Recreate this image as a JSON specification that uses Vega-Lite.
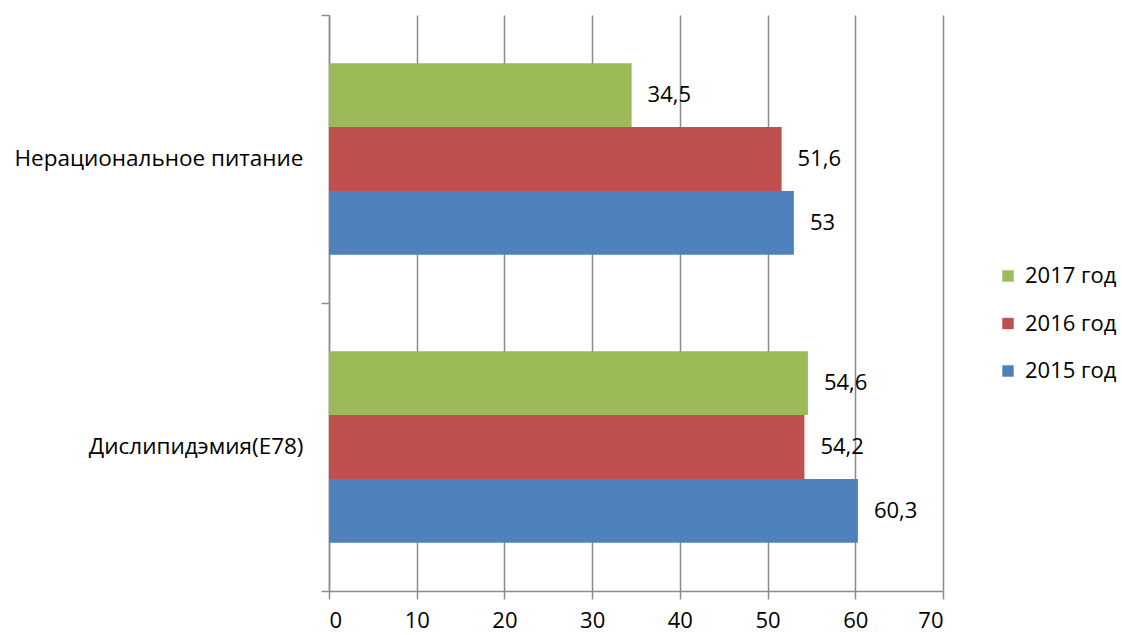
{
  "$schema": "https://vega.github.io/schema/vega-lite/v6.json",
  "width": 614,
  "height": 576,
  "autosize": {"type": "none"},
  "padding": {"left": 329, "top": 15, "right": 179, "bottom": 44},
  "background": "white",
  "config": {
    "view": {"stroke": null},
    "font": "Open Sans",
    "locale": {"number": {"decimal": ",", "thousands": " ", "grouping": [3], "currency": ["", " ₽"]}}
  },
  "data": {
    "values": [
      {"category": "Нерациональное питание", "year": "2017 год", "value": 34.5},
      {"category": "Нерациональное питание", "year": "2016 год", "value": 51.6},
      {"category": "Нерациональное питание", "year": "2015 год", "value": 53},
      {"category": "Дислипидэмия(E78)", "year": "2017 год", "value": 54.6},
      {"category": "Дислипидэмия(E78)", "year": "2016 год", "value": 54.2},
      {"category": "Дислипидэмия(E78)", "year": "2015 год", "value": 60.3}
    ]
  },
  "encoding": {
    "y": {
      "field": "category",
      "type": "nominal",
      "sort": ["Нерациональное питание", "Дислипидэмия(E78)"],
      "scale": {"paddingInner": 0, "paddingOuter": 0},
      "axis": {
        "title": null,
        "bandPosition": 1,
        "tickExtra": true,
        "tickSize": 8,
        "tickColor": "#8c8c8c",
        "tickWidth": 1.5,
        "domainColor": "#8c8c8c",
        "domainWidth": 1.5,
        "labelFontSize": 22.5,
        "labelColor": "#000000",
        "labelPadding": 18,
        "labelLimit": 400,
        "grid": false
      }
    },
    "yOffset": {
      "field": "year",
      "type": "nominal",
      "sort": ["2017 год", "2016 год", "2015 год"],
      "scale": {"paddingInner": 0, "paddingOuter": 0.757}
    },
    "x": {
      "field": "value",
      "type": "quantitative",
      "scale": {"domain": [0, 70], "nice": false},
      "axis": {
        "title": null,
        "values": [0, 10, 20, 30, 40, 50, 60, 70],
        "grid": true,
        "gridColor": "#8c8c8c",
        "gridWidth": 1.5,
        "tickSize": 8,
        "tickColor": "#8c8c8c",
        "tickWidth": 1.5,
        "domainColor": "#8c8c8c",
        "domainWidth": 1.5,
        "labelFontSize": 22,
        "labelColor": "#000000",
        "labelPadding": 11
      }
    }
  },
  "layer": [
    {
      "mark": {"type": "bar"},
      "encoding": {
        "color": {
          "field": "year",
          "type": "nominal",
          "scale": {"domain": ["2017 год", "2016 год", "2015 год"], "range": ["#9BBB59", "#C0504D", "#4F81BD"]},
          "legend": {
            "title": null,
            "orient": "none",
            "legendX": 668,
            "legendY": 250,
            "symbolType": "square",
            "symbolSize": 130,
            "symbolStrokeWidth": 0,
            "symbolOpacity": 1,
            "labelFontSize": 22,
            "labelColor": "#000000",
            "labelOffset": 6,
            "rowPadding": 25.5
          }
        }
      }
    },
    {
      "mark": {"type": "text", "align": "left", "baseline": "middle", "dx": 16, "fontSize": 22, "color": "#000000"},
      "encoding": {
        "text": {"field": "value", "type": "quantitative", "format": ".1~f"}
      }
    }
  ]
}
